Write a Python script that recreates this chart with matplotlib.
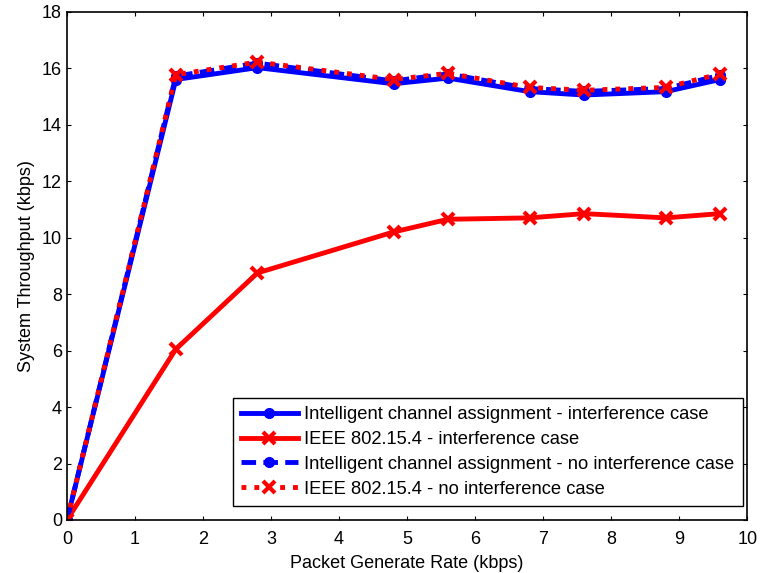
import matplotlib
matplotlib.use('Agg')
import matplotlib.pyplot as plt

plt.rcParams['font.family'] = ['Liberation Sans', 'DejaVu Sans']

rate = [0, 1.6, 2.8, 4.8, 5.6, 6.8, 7.6, 8.8, 9.6]
ica_intf = [0, 15.6, 16.02, 15.45, 15.65, 15.17, 15.05, 15.17, 15.6]
ieee_intf = [0, 6.05, 8.75, 10.2, 10.65, 10.7, 10.85, 10.7, 10.85]
ica_no = [0, 15.72, 16.18, 15.55, 15.8, 15.28, 15.18, 15.28, 15.75]
ieee_no = [0, 15.77, 16.22, 15.6, 15.82, 15.32, 15.22, 15.32, 15.8]

labels = ['Intelligent channel assignment - interference case',
          'IEEE 802.15.4 - interference case',
          'Intelligent channel assignment - no interference case',
          'IEEE 802.15.4 - no interference case']

fig = plt.figure(figsize=(7.61, 5.73), dpi=100)
ax = fig.add_axes([0.088, 0.0925, 0.894, 0.887])

ax.plot(rate, ica_intf, color='b', lw=3.5, marker='o', ms=7, label=labels[0])
ax.plot(rate, ieee_intf, color='r', lw=3.5, marker='x', ms=8, mew=3, label=labels[1])
ax.plot(rate, ica_no, color='b', lw=3.5, ls=(0, (3, 1.5)), marker='o', ms=7, label=labels[2])
ax.plot(rate, ieee_no, color='r', lw=3.5, ls=':', marker='x', ms=8, mew=3, label=labels[3])

ax.set_xlim(0, 10)
ax.set_ylim(0, 18)
ax.set_xticks(range(0, 11))
ax.set_yticks(range(0, 19, 2))
for s in ax.spines.values():
    s.set_linewidth(1.2)
ax.tick_params(direction='in', top=True, right=True, labelsize=13, length=3)
ax.tick_params(axis='x', pad=8)
ax.set_xlabel('Packet Generate Rate (kbps)', fontsize=13, labelpad=5)
ax.set_ylabel('System Throughput (kbps)', fontsize=13, labelpad=5)

leg = ax.legend(loc='lower right', bbox_to_anchor=(0.993, 0.028), fontsize=13.2,
                fancybox=False, framealpha=1, edgecolor='k', borderaxespad=0,
                handlelength=3.1, labelspacing=0.42, borderpad=0.45,
                handletextpad=0.35)
leg.get_frame().set_linewidth(1.0)

fig.savefig('out.png', dpi=100)
